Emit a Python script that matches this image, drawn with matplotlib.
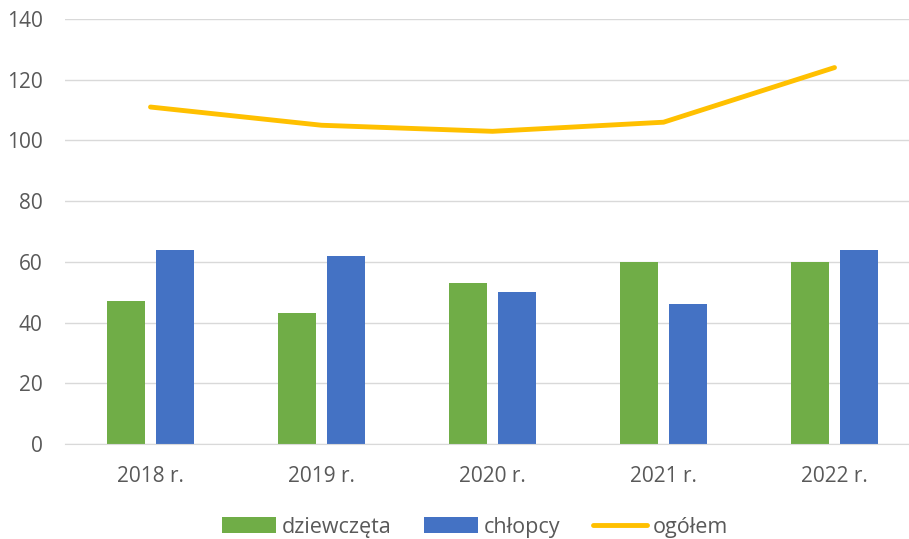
import numpy as np
import matplotlib.pyplot as plt

years = ['2018 r.', '2019 r.', '2020 r.', '2021 r.', '2022 r.']
dziewczeta = [47, 43, 53, 60, 60]
chlopcy = [64, 62, 50, 46, 64]
ogolem = [111, 105, 103, 106, 124]

plt.rcParams['font.family'] = ['Open Sans', 'DejaVu Sans']
text_col = '#595959'

fig = plt.figure(figsize=(9.09, 5.39), dpi=100)
ax = fig.add_axes([65 / 909, 95 / 539, 855 / 909, 425 / 539])

x = np.arange(len(years))
w = 0.222
off = 0.141
b1 = ax.bar(x - off, dziewczeta, width=w, color='#70AD47', label='dziewczęta', zorder=2)
b2 = ax.bar(x + off, chlopcy, width=w, color='#4472C4', label='chłopcy', zorder=2)
l1, = ax.plot(x, ogolem, color='#FFC000', lw=3.5, solid_capstyle='round', label='ogółem', zorder=3)

ax.set_xlim(-0.5, len(years) - 0.5)
ax.set_ylim(0, 140)
ax.set_yticks(np.arange(0, 141, 20))
ax.set_xticks(x)
ax.set_xticklabels(years)
ax.grid(axis='y', color='#D9D9D9', lw=1, zorder=0)
for s in ['top', 'right', 'left']:
    ax.spines[s].set_visible(False)
ax.spines['bottom'].set_color('#D9D9D9')
ax.tick_params(length=0, labelsize=15, colors=text_col)
ax.tick_params(axis='x', pad=16)
ax.tick_params(axis='y', pad=16)

fig.legend([b1, b2, l1], ['dziewczęta', 'chłopcy', 'ogółem'],
           loc='center', bbox_to_anchor=(475 / 909, 12 / 539), ncol=3, frameon=False,
           fontsize=15.5, labelcolor=text_col, handlelength=2.5, handleheight=0.7,
           handletextpad=0.25, columnspacing=1.55)

fig.savefig('out.png', dpi=100)
